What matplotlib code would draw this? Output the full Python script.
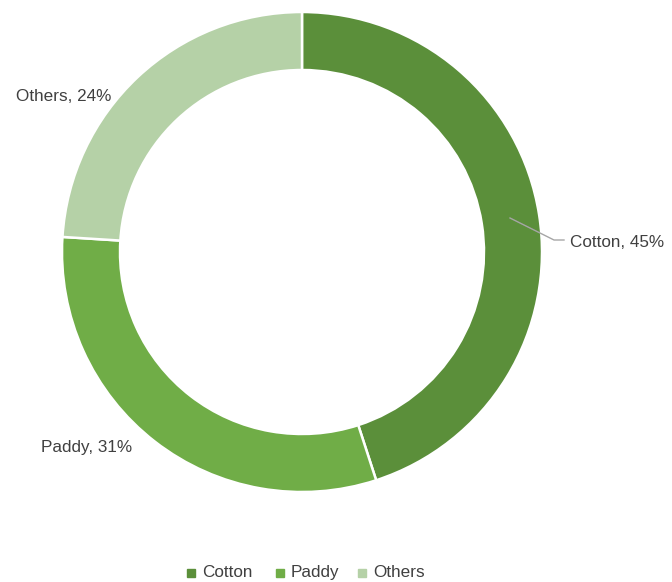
import matplotlib.pyplot as plt
from matplotlib.patches import Rectangle

# data
crops = ["Cotton", "Paddy", "Others"]
shares = [45, 31, 24]
colors = ["#5B8F3A", "#70AD47", "#B5D1A7"]

W, H = 672, 582
fig = plt.figure(figsize=(W / 100, H / 100), dpi=100)
ax = fig.add_axes([0, 0, 1, 1])

cx, cy = 302, H - 252
R = 240
ax.pie(shares, colors=colors, startangle=90, counterclock=False,
       center=(cx, cy), radius=R, frame=True,
       wedgeprops=dict(width=R - 182, edgecolor="white", linewidth=1.8))
ax.set_xlim(0, W)
ax.set_ylim(0, H)
ax.set_aspect("equal")
ax.axis("off")

txt = dict(fontsize=12.3, color="#404040", family="Liberation Sans")

# data labels
ax.plot([510, 554, 564], [H - 218, H - 240, H - 240], color="#A6A6A6", lw=1)
ax.text(570, H - 247, f"{crops[0]}, {shares[0]}%", va="baseline", ha="left", **txt)
ax.text(41, H - 452, f"{crops[1]}, {shares[1]}%", va="baseline", ha="left", **txt)
ax.text(16, H - 101, f"{crops[2]}, {shares[2]}%", va="baseline", ha="left", **txt)

# legend
for name, c, x in zip(crops, colors, [187, 276, 358]):
    ax.add_patch(Rectangle((x, H - 577), 8, 8, color=c))
    ax.text(x + 15, H - 577, name, va="baseline", ha="left", **txt)

fig.savefig("out.png", dpi=100)
